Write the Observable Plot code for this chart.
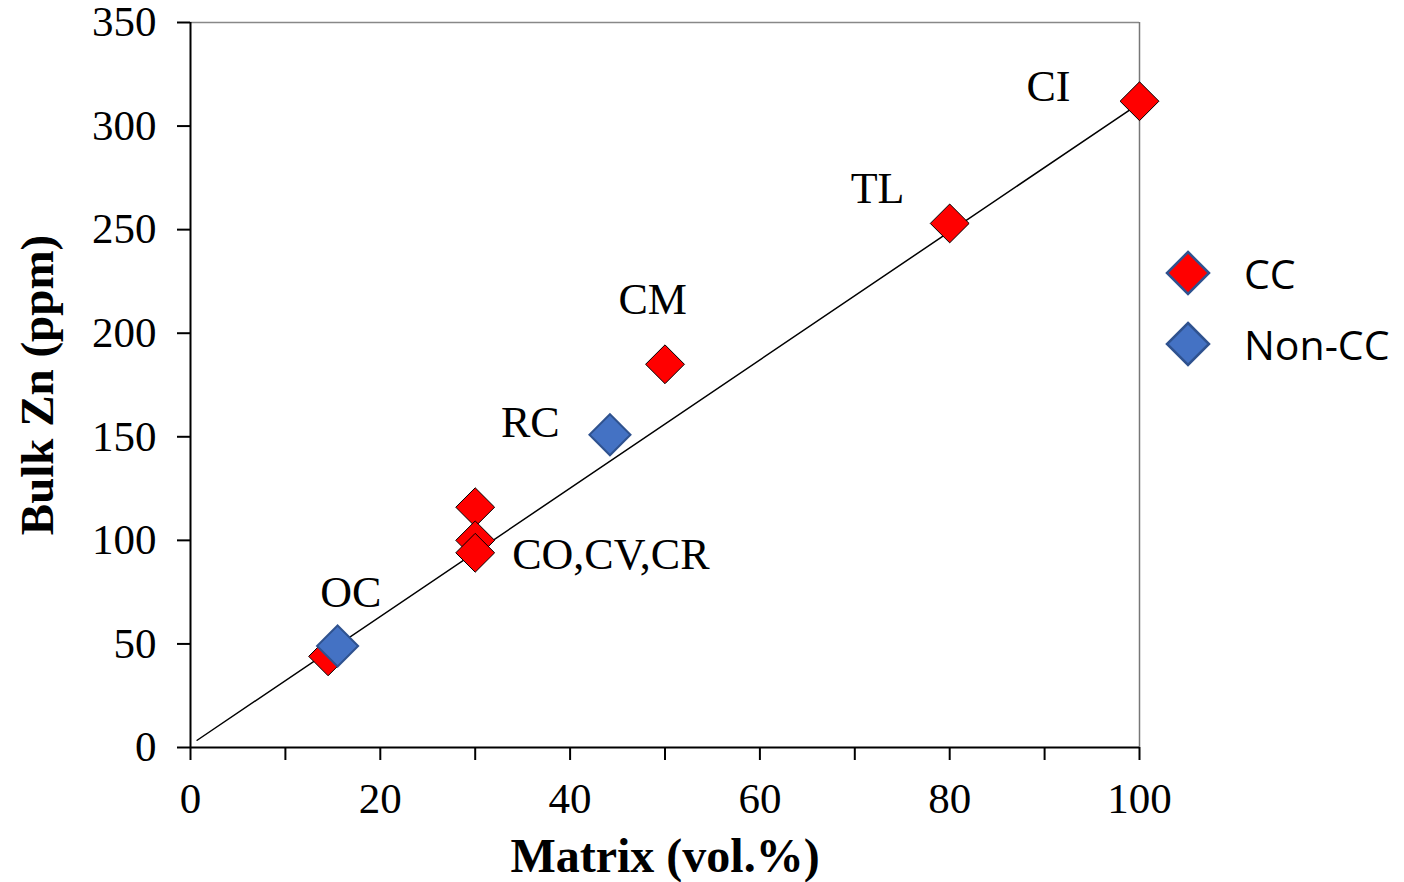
<!DOCTYPE html>
<html><head><meta charset="utf-8">
<script src="https://cdn.jsdelivr.net/npm/d3@7"></script>
<script src="https://cdn.jsdelivr.net/npm/@observablehq/plot@0.6"></script>
<style>
html,body{margin:0;padding:0;background:#fff;}
#wrap{position:relative;width:1404px;height:882px;}
#legend{position:absolute;left:1164px;top:237px;font-family:"Open Sans",sans-serif;font-size:41px;color:#000;}
#legend .row{display:flex;align-items:center;height:71px;}
#legend svg{margin-right:32px;}
</style></head>
<body><div id="wrap"><div id="legend"></div></div>
<script>
// data
const ccX = [100, 80, 50, 30, 30, 30, 14.5];
const ccY = [312, 253, 185, 116, 100, 94, 44];
const nonX = [44.2, 15.5];
const nonY = [151, 49];
const trendX = [0.7, 100];
const trendY = [3.5, 311];
const labels = ["CI", "TL", "CM", "RC", "CO,CV,CR", "OC"];
const labelX = [90.4, 72.4, 48.7, 35.8, 33.9, 16.9];
const labelY = [319, 269.5, 216, 156.5, 93.2, 74.4];
const labelAnchor = ["middle", "middle", "middle", "middle", "start", "middle"];
const xTicks = [0, 10, 20, 30, 40, 50, 60, 70, 80, 90, 100];
const yTicks = [0, 50, 100, 150, 200, 250, 300, 350];
const seriesNames = ["CC", "Non-CC"];
const seriesFill = ["#FF0000", "#4472C4"];

const cc = ccX.map((x, i) => ({x, y: ccY[i]}));
const non = nonX.map((x, i) => ({x, y: nonY[i]}));
const trend = trendX.map((x, i) => ({x, y: trendY[i]}));
const lab = labels.map((t, i) => ({t, x: labelX[i], y: labelY[i], a: labelAnchor[i]}));

const chart = Plot.plot({
  width: 1404, height: 882,
  marginLeft: 190, marginRight: 265, marginTop: 22, marginBottom: 135,
  style: {fontFamily: "Liberation Serif", fontSize: "43px", color: "#000", background: "#fff", overflow: "visible"},
  x: {domain: [0, 100]},
  y: {domain: [0, 350]},
  marks: [
    Plot.ruleY([350], {stroke: "#888", strokeWidth: 1.5}),
    Plot.ruleX([100], {stroke: "#777", strokeWidth: 1.5}),
    Plot.axisX({ticks: xTicks, tickSize: 13, tickPadding: 22, strokeWidth: 2, fontSize: 43,
      tickFormat: d => d % 20 === 0 ? String(d) : "", label: null}),
    Plot.axisY({ticks: yTicks, tickSize: 13, tickPadding: 21, strokeWidth: 2, fontSize: 43, label: null}),
    Plot.ruleX([0], {strokeWidth: 2}),
    Plot.ruleY([0], {strokeWidth: 2}),
    Plot.line(trend, {x: "x", y: "y", stroke: "#000", strokeWidth: 1.5}),
    Plot.dot(cc, {x: "x", y: "y", symbol: "diamond2", r: 17.5, fill: seriesFill[0], stroke: "#000", strokeWidth: 1}),
    Plot.dot(non, {x: "x", y: "y", symbol: "diamond2", r: 18.5, fill: seriesFill[1], stroke: "#2F528F", strokeWidth: 2}),
    Plot.text(lab.filter(d => d.a === "middle"), {x: "x", y: "y", text: "t", fontSize: 44, textAnchor: "middle", fill: "#000"}),
    Plot.text(lab.filter(d => d.a === "start"), {x: "x", y: "y", text: "t", fontSize: 44, textAnchor: "start", fill: "#000"}),
    Plot.text(["Matrix (vol.%)"], {frameAnchor: "bottom", dy: 109, fontSize: 48, fontWeight: "bold", fill: "#000", textAnchor: "middle", lineAnchor: "middle"}),
    Plot.text(["Bulk Zn (ppm)"], {frameAnchor: "left", dx: -153, rotate: -90, fontSize: 47, fontWeight: "bold", fill: "#000", textAnchor: "middle", lineAnchor: "middle"})
  ]
});
document.getElementById("wrap").prepend(chart);

const leg = document.getElementById("legend");
seriesNames.forEach((n, i) => {
  const row = document.createElement("div");
  row.className = "row";
  row.innerHTML = `<svg width="48" height="48" viewBox="-24 -24 48 48"><path d="M0,-21L21,0L0,21L-21,0Z" fill="${seriesFill[i]}" stroke="#2F528F" stroke-width="2.5"/></svg><span>${n}</span>`;
  leg.appendChild(row);
});
</script></body></html>
